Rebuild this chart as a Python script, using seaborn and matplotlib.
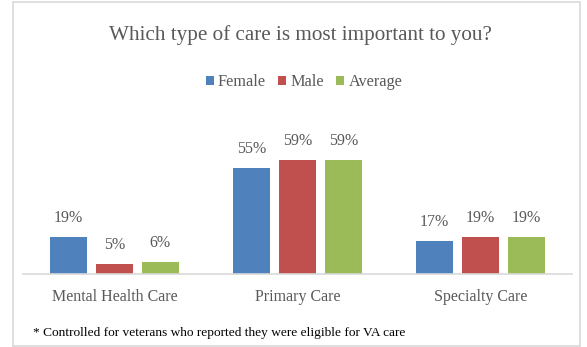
import matplotlib
matplotlib.use("Agg")
import matplotlib.pyplot as plt
from matplotlib.patches import Rectangle
import seaborn as sns
import pandas as pd

categories = ["Mental Health Care", "Primary Care", "Specialty Care"]
series_names = ["Female", "Male", "Average"]
female = [19, 55, 17]
male = [5, 59, 19]
average = [6, 59, 19]
colors = ["#4F81BD", "#C0504D", "#9BBB59"]
title = "Which type of care is most important to you?"
footnote = "* Controlled for veterans who reported they were eligible for VA care"

rows = []
for name, vals in zip(series_names, [female, male, average]):
    for cat, v in zip(categories, vals):
        rows.append({"Care": cat, "Group": name, "Pct": v})
df = pd.DataFrame(rows)

sns.set_theme(style="white")
plt.rcParams["font.family"] = ["Liberation Serif", "DejaVu Serif"]
gray = "#595959"

W, H = 587, 347
fig = plt.figure(figsize=(W / 100, H / 100), dpi=100)

# light frame around the whole chart area
fig.patches.append(Rectangle((13 / W, 1 - 346 / H), (580 - 13) / W, (346 - 2) / H,
                             transform=fig.transFigure, fill=False,
                             edgecolor="#D9D9D9", linewidth=1.2))

ymax = 70
px_per = 1.93
ax_bottom = 1 - 274 / H
ax_h = ymax * px_per / H
ax = fig.add_axes([23 / W, ax_bottom, (572 - 23) / W, ax_h])

sns.barplot(data=df, x="Care", y="Pct", hue="Group", hue_order=series_names,
            order=categories, palette=colors, saturation=1, width=0.75, gap=0.2,
            linewidth=0, ax=ax)

ax.set_ylim(0, ymax)
ax.set_xlim(-0.5, 2.5)
ax.set_xlabel("")
ax.set_ylabel("")
ax.set_yticks([])
for s in ["top", "right", "left"]:
    ax.spines[s].set_visible(False)
ax.spines["bottom"].set_color("#D9D9D9")
ax.spines["bottom"].set_linewidth(1.2)
ax.tick_params(axis="x", length=0, pad=11, labelsize=11.5, labelcolor=gray)

for cont in ax.containers:
    ax.bar_label(cont, labels=[f"{int(v)}%" for v in cont.datavalues],
                 padding=8, fontsize=11.5, color=gray)

handles, labels = ax.get_legend_handles_labels()
ax.get_legend().remove()
fig.legend(handles, labels, loc="center", bbox_to_anchor=(304 / W, 1 - 82 / H),
           ncol=3, frameon=False, fontsize=11.7, labelcolor=gray,
           handlelength=0.5, handleheight=0.5, handletextpad=0.25,
           columnspacing=0.75)

fig.text(300 / W, 1 - 35 / H, title, ha="center", va="center",
         fontsize=15.2, color=gray)
fig.text(33 / W, 1 - 333 / H, footnote, ha="left", va="center",
         fontsize=9.6, color="black")

fig.savefig("out.png", dpi=100)
